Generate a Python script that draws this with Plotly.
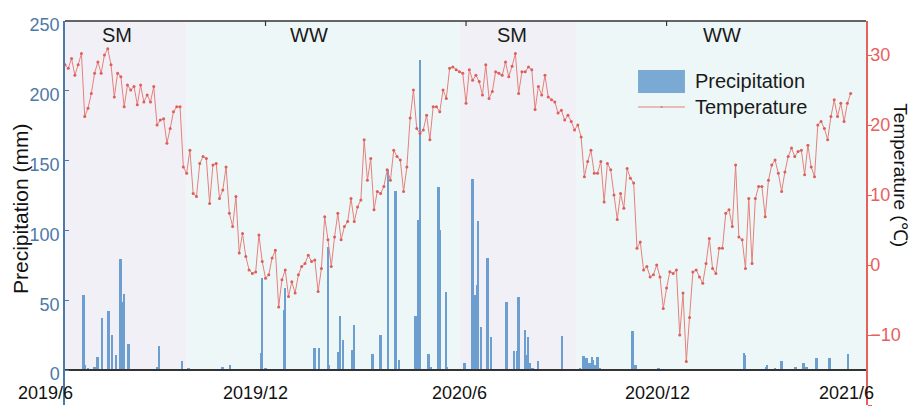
import pandas as pd
import plotly.graph_objects as go

# ---------------- data ----------------
temp_start = "2019-06-01"
temp_step_days = 3
temperature = [
    28.6, 28.1, 29.5, 27.1, 28.6, 30.2, 21.2, 22.4, 24.5, 27.4,
    29.0, 27.4, 30.0, 30.9, 28.6, 24.0, 27.4, 26.9, 22.6, 25.7,
    25.0, 25.5, 22.9, 25.7, 23.3, 24.3, 23.3, 25.5, 20.0, 20.7,
    20.9, 17.4, 19.5, 21.9, 22.6, 22.6, 14.0, 13.1, 16.4, 10.2,
    9.8, 14.5,
    15.5, 15.2, 8.8, 14.3, 14.5, 9.5, 10.7, 14.0, 7.4, 5.5,
    9.8, 1.7, 4.5, 1.2, -0.7, -1.2, -1.0, 4.3, 0.5, -1.9,
    -1.4, 1.0, 2.1, -6.0, -2.1, -0.7, -4.5, -2.4, -4.0, -1.4,
    -0.2, 0.2, 1.4, 0.5, 0.7, -3.8, -0.5, 6.9, 3.6, -0.2,
    4.0,
    7.4, 3.6, 5.5, 6.2, 9.5, 6.2, 8.3, 9.3, 17.9, 12.1,
    15.2, 7.9, 10.5, 10.2, 11.2, 13.6, 12.1, 16.4, 15.5, 15.0,
    10.5, 14.0, 21.0, 25.0, 19.5, 18.8, 19.3, 21.4, 17.9, 22.6,
    22.6, 21.9, 25.0, 23.8, 28.1, 28.3, 27.9, 27.6, 27.4, 23.1,
    27.9, 26.4, 27.1, 26.2, 24.3, 28.6, 23.8, 24.8, 27.6, 27.4,
    27.1, 29.0, 26.9, 28.4, 30.2, 24.5, 27.6, 27.6, 28.3, 27.9,
    22.2, 25.5, 24.3, 27.1, 24.0, 23.6, 23.3, 21.7, 22.1, 20.7,
    21.4, 20.5, 19.3, 20.0, 18.3, 12.6, 14.8, 16.4, 13.1, 13.1,
    14.8, 9.0,
    14.5, 13.6, 10.0, 6.5, 10.2, 8.1, 13.8, 12.4, 11.7, 2.4,
    3.3, -0.7, -0.2, -1.7, -1.4, 0.0, -1.7, -6.2, -3.3, -0.95,
    -1.2, -0.7, -10.0, -4.0, -13.8, -7.5, -1.0, -0.7, -1.7, -2.6,
    0.2, 3.8, -0.5, -1.2, 2.4, 2.4, 7.4, 7.9, 5.5, 14.3,
    4.0, 3.6, -0.5, 9.5, 0.2, 9.5, 11.2, 11.2, 6.9, 12.1,
    14.3, 15.0, 13.1, 10.5, 13.3, 15.5, 16.7, 15.5, 16.2, 16.4,
    12.9, 17.1, 14.0, 12.6, 20.0, 20.5, 19.5, 17.9, 21.2, 23.6,
    21.2, 23.1, 20.5, 23.1, 24.5,
]
temp_dates = pd.date_range(temp_start, periods=len(temperature), freq=f"{temp_step_days}D")

precip_dates = [
    "2019-06-18", "2019-06-19", "2019-06-22", "2019-06-28", "2019-07-01", "2019-07-05",
    "2019-07-11", "2019-07-14", "2019-07-18", "2019-07-22", "2019-07-23", "2019-07-24",
    "2019-07-25", "2019-07-29", "2019-08-24", "2019-08-26", "2019-09-16", "2019-09-22",
    "2019-10-23", "2019-10-30", "2019-11-05", "2019-11-27", "2019-11-28", "2019-12-01",
    "2019-12-07", "2019-12-18", "2019-12-19", "2020-01-15", "2020-01-19", "2020-01-27",
    "2020-01-28", "2020-02-06", "2020-02-07", "2020-02-10", "2020-02-18", "2020-02-20",
    "2020-03-08", "2020-03-15", "2020-03-22", "2020-03-29", "2020-04-01", "2020-04-16",
    "2020-04-17", "2020-04-19", "2020-04-20", "2020-04-28", "2020-04-30", "2020-05-07",
    "2020-05-08", "2020-05-14", "2020-05-15", "2020-05-31", "2020-06-07", "2020-06-08",
    "2020-06-10", "2020-06-11", "2020-06-12", "2020-06-15", "2020-06-21", "2020-06-24",
    "2020-07-08", "2020-07-15", "2020-07-18", "2020-07-19", "2020-07-25", "2020-07-27",
    "2020-07-28", "2020-07-29", "2020-08-01", "2020-08-06", "2020-08-28", "2020-09-13",
    "2020-09-16", "2020-09-17", "2020-09-18", "2020-09-19", "2020-09-20", "2020-09-22",
    "2020-09-24", "2020-09-25", "2020-09-27", "2020-09-29", "2020-10-01", "2020-10-31",
    "2020-11-03", "2020-11-24", "2020-12-01", "2021-02-10", "2021-02-11", "2021-03-02",
    "2021-03-03", "2021-03-10", "2021-03-16", "2021-03-29", "2021-04-05", "2021-04-08",
    "2021-04-17", "2021-04-29", "2021-05-16",
]
precipitation = [
    54, 3.6, 1, 2.4, 9.5, 37, 42, 25, 10.7, 79.5, 49, 18, 54.4, 18.4, 2.4, 17.2, 6.7, 1.2,
    2.4, 3.6, 0.5, 12, 66, 1, 0.5, 43, 59, 15.5, 15.5, 88, 3.6, 13, 38.7, 21.5, 14.3, 32.2,
    11.5, 25, 143, 128, 7.2, 38.7, 18.6, 107.4, 222, 11.5, 2.4, 131, 100, 55.6, 2.4, 4.8,
    137, 6, 53.7, 61, 107, 30.6, 80, 24, 48.5, 13.8, 13.8, 52, 28.7, 10.7, 23.4, 4.8, 1.2,
    6.7, 24.4, 1, 10, 10, 7.6, 8.4, 5.3, 4.8, 9, 7.2, 3.6, 9, 1, 28, 3.6, 1, 0.5, 12, 10.7,
    2.4, 3.6, 1.2, 6.4, 2, 5.3, 2.4, 8.4, 8.4, 11.5,
]

season_labels = ["SM", "WW", "SM", "WW"]
season_starts = ["2019-06-01", "2019-09-20", "2020-05-26", "2020-09-10"]
season_ends = ["2019-09-20", "2020-05-26", "2020-09-10", "2021-06-01"]
season_label_dates = ["2019-07-18", "2020-01-10", "2020-07-13", "2021-01-21"]

x_tick_vals = ["2019-06-01", "2019-12-01", "2020-06-01", "2020-12-01", "2021-06-01"]
x_tick_text = ["2019/6", "2019/12", "2020/6", "2020/12", "2021/6"]
precip_ticks = [0, 50, 100, 150, 200, 250]
temp_ticks = [-20, -10, 0, 10, 20, 30]

# ---------------- style ----------------
FONT = "Liberation Sans, Arial, sans-serif"
BAR_COLOR = "#6c9fd0"
LINE_COLOR = "#e6807c"
MARK_COLOR = "#dc5f5a"
LEFT_COLOR = "#4d79a8"
RIGHT_COLOR = "#e8605e"
SEASON_BG = {"SM": "#f1f0f6", "WW": "#edf7f8"}
X_LABEL_SHIFTS = [-20, -10, -7, -9, -20]
PLOT_H = 384

Y_RANGE = [-25.07, 250]
Y2_RANGE = [-20, 34.86]
x0_pos = -Y_RANGE[0] / (Y_RANGE[1] - Y_RANGE[0])

fig = go.Figure()
fig.add_trace(go.Bar(
    x=pd.to_datetime(precip_dates), y=precipitation, name="Precipitation",
    marker=dict(color=BAR_COLOR, line=dict(width=0)),
    width=1.8 * 86400000, yaxis="y", showlegend=False,
))
fig.add_trace(go.Scatter(
    x=temp_dates, y=temperature, name="Temperature", mode="lines+markers",
    line=dict(color=LINE_COLOR, width=1),
    marker=dict(color=MARK_COLOR, size=3),
    yaxis="y2", showlegend=False,
))

shapes = []
for lab, s, e in zip(season_labels, season_starts, season_ends):
    shapes.append(dict(type="rect", xref="x", yref="y", x0=s, x1=e, y0=0, y1=250,
                       fillcolor=SEASON_BG[lab], line=dict(width=0), layer="below"))
# top frame and its inner ticks
shapes.append(dict(type="line", xref="paper", yref="paper", x0=0, x1=1, y0=1, y1=1,
                   line=dict(color="#333333", width=1.5)))
for d in x_tick_vals[1:-1]:
    shapes.append(dict(type="line", xref="x", yref="paper", x0=d, x1=d, y0=1, y1=1 - 5 / PLOT_H,
                       line=dict(color="#333333", width=1.2)))
# custom legend
shapes.append(dict(type="rect", xref="paper", yref="paper", x0=0.7154, x1=0.7740,
                   y0=0.8125, y1=0.8724, fillcolor="#7aaad4", line=dict(width=0)))
shapes.append(dict(type="line", xref="paper", yref="paper", x0=0.7154, x1=0.7740,
                   y0=0.7760, y1=0.7760, line=dict(color=LINE_COLOR, width=1.2)))
shapes.append(dict(type="circle", xref="paper", yref="paper", x0=0.7434, x1=0.7460,
                   y0=0.7740, y1=0.7780, fillcolor=MARK_COLOR, line=dict(width=0)))

annotations = []
for lab, d in zip(season_labels, season_label_dates):
    annotations.append(dict(x=d, y=240, xref="x", yref="y", text=lab, showarrow=False,
                            font=dict(family=FONT, size=20, color="#1a1a1a")))
for d, t, sh in zip(x_tick_vals, x_tick_text, X_LABEL_SHIFTS):
    annotations.append(dict(x=d, y=0, xref="x", yref="y", text=t, showarrow=False,
                            xanchor="center", yanchor="top", xshift=sh, yshift=-11,
                            font=dict(family=FONT, size=18, color="#111111")))
annotations.append(dict(x=0.784, y=0.8438, xref="paper", yref="paper", text="Precipitation",
                        showarrow=False, xanchor="left", yanchor="middle",
                        font=dict(family=FONT, size=20, color="#1a1a1a")))
annotations.append(dict(x=0.784, y=0.7760, xref="paper", yref="paper", text="Temperature",
                        showarrow=False, xanchor="left", yanchor="middle",
                        font=dict(family=FONT, size=20, color="#1a1a1a")))
annotations.append(dict(x=-0.0562, y=0.5104, xref="paper", yref="paper", text="Precipitation (mm)",
                        showarrow=False, textangle=-90, xanchor="center", yanchor="middle",
                        font=dict(family=FONT, size=21, color="#111111")))
annotations.append(dict(x=1.0437, y=0.598, xref="paper", yref="paper", text="Temperature (℃)",
                        showarrow=False, textangle=90, xanchor="center", yanchor="middle",
                        font=dict(family=FONT, size=19, color="#111111")))

fig.update_layout(
    width=910, height=410,
    margin=dict(l=65, r=44, t=21, b=5),
    paper_bgcolor="white", plot_bgcolor="white",
    bargap=0, barmode="overlay",
    shapes=shapes, annotations=annotations,
    xaxis=dict(
        type="date", range=["2019-06-01", "2021-06-01"],
        anchor="free", position=x0_pos,
        showline=True, linecolor="#333333", linewidth=2,
        tickvals=x_tick_vals, showticklabels=False, ticks="",
        showgrid=False, zeroline=False,
    ),
    yaxis=dict(
        range=Y_RANGE, tickvals=precip_ticks, ticks="inside", ticklen=4,
        tickcolor=LEFT_COLOR, showline=True, linecolor=LEFT_COLOR, linewidth=1.5,
        tickfont=dict(family=FONT, size=18, color=LEFT_COLOR),
        ticklabelshift=4,
        showgrid=False, zeroline=False,
    ),
    yaxis2=dict(
        range=Y2_RANGE, tickvals=temp_ticks, overlaying="y", side="right", anchor="x",
        ticks="outside", ticklen=4, tickcolor=RIGHT_COLOR,
        showline=True, linecolor=RIGHT_COLOR, linewidth=1.5,
        tickfont=dict(family=FONT, size=18, color=RIGHT_COLOR),
        ticklabelstandoff=-5,
        showgrid=False, zeroline=False,
    ),
)

fig.write_html("out.html")
